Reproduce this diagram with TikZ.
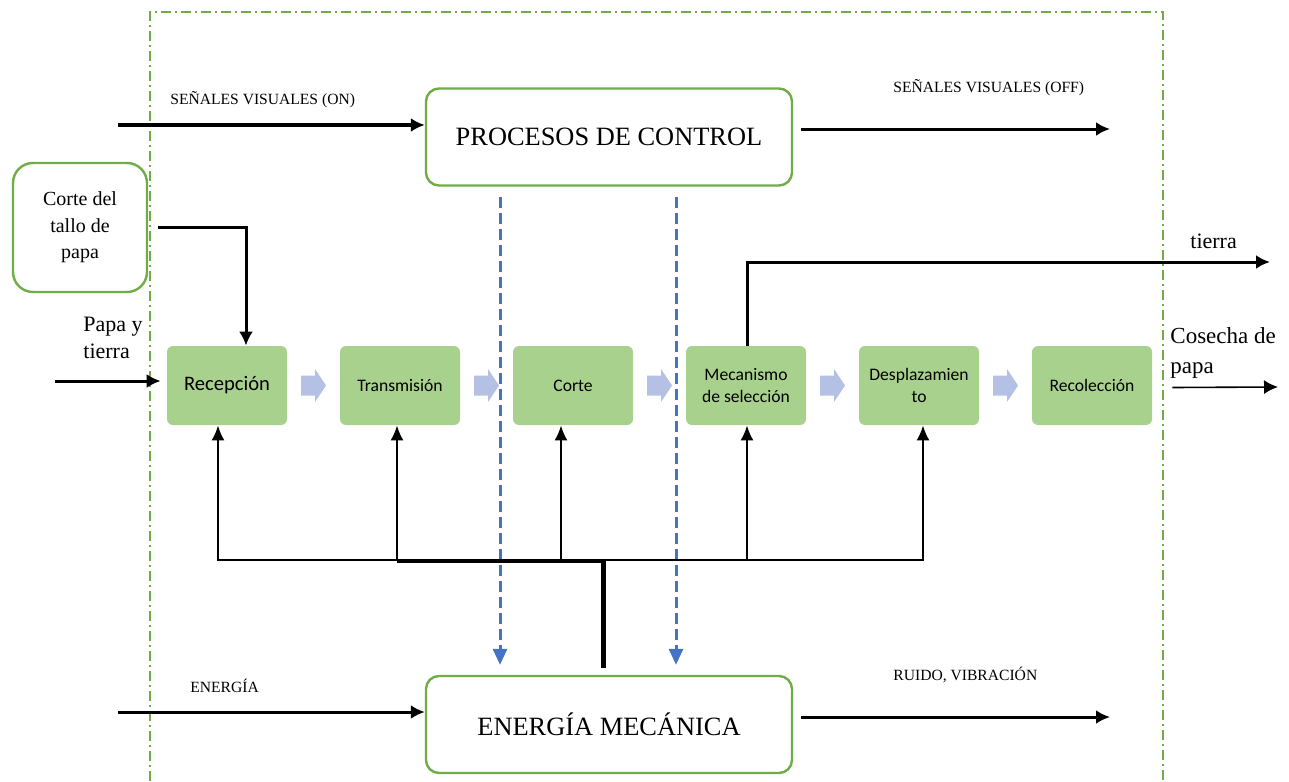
\documentclass[tikz,border=0pt]{standalone}
\usepackage{fontspec}
\setmainfont{Liberation Serif}
\newfontfamily\boxfont{Carlito}
\usetikzlibrary{arrows.meta,calc}

\definecolor{grnline}{HTML}{70AD47}
\definecolor{grnfill}{HTML}{A9D18E}
\definecolor{stepblue}{HTML}{B4C0E4}
\definecolor{ctrlblue}{HTML}{4472C4}

\tikzset{
  bigbox/.style={draw=grnline,line width=1.2pt,fill=white,rounded corners=6.5pt,
    minimum width=183pt,minimum height=48.5pt,font=\fontsize{13.2}{15}\selectfont},
  procbox/.style={fill=grnfill,rounded corners=3pt,minimum width=60pt,
    minimum height=39.5pt,inner sep=0pt,align=center,
    font=\boxfont\fontsize{8.8}{11}\selectfont},
  sig/.style={font=\fontsize{7.8}{9}\selectfont,inner sep=0pt,anchor=west},
  outlbl/.style={font=\fontsize{11}{13.5}\selectfont,inner sep=0pt,align=left,anchor=west},
  flow/.style={line width=1.5pt,-{Latex[length=7pt,width=7pt]}},
  thinflow/.style={line width=0.8pt,-{Latex[length=7pt,width=7pt]}},
  feed/.style={line width=1pt,-{Latex[length=7.5pt,width=6.5pt]}},
  ctrldash/.style={ctrlblue,line width=1.5pt,dash pattern=on 5.5pt off 2.5pt,
    -{Triangle[length=8pt,width=7pt]}}
}

\begin{document}
\begin{tikzpicture}[x=0.5pt,y=-0.5pt]
  \useasboundingbox (0,0) rectangle (1289,781);
  % system limit
  \draw[grnline,line width=1.1pt,dash pattern=on 5pt off 2pt on 1pt off 2pt]
    (150,781) -- (150,12) -- (1163,12) -- (1163,781);

  \node[bigbox] (ctrl) at (609,137) {PROCESOS DE CONTROL};
  \node[bigbox] (mech) at (609,724.5) {ENERGÍA MECÁNICA};
  \node[draw=grnline,line width=1.2pt,rounded corners=10pt,minimum width=67pt,
    minimum height=64.5pt,align=center,font=\fontsize{10}{13.2}\selectfont]
    (tallo) at (80,227.5) {Corte del\\tallo de\\papa};

  % process chain
  \node[procbox,font=\boxfont\fontsize{10.3}{12}\selectfont] (rec) at (227,385.5) {Recepción};
  \node[procbox] (tra) at (400,385.5) {Transmisión};
  \node[procbox] (cor) at (573,385.5) {Corte};
  \node[procbox] (mec) at (746,385.5) {Mecanismo\\de selección};
  \node[procbox] (des) at (919,385.5) {Desplazamien\\to};
  \node[procbox] (rcl) at (1092,385.5) {Recolección};
  \foreach \a/\b in {rec/tra,tra/cor,cor/mec,mec/des,des/rcl}
    \fill[stepblue] ($(\a.east)!0.5!(\b.west)$) ++(-12.5,-10) -- ++(14,0)
      -- ++(0,-6.5) -- ++(11,16.5) -- ++(-11,16.5) -- ++(0,-6.5) -- ++(-14,0) -- cycle;

  % control signals
  \coordinate (onin) at (118,125);
  \coordinate (offout) at (1110,129);
  \draw[flow] (onin) -- (onin -| ctrl.west);
  \draw[flow] ($(ctrl.east)+(8,-8)$) -- (offout);
  \node[sig] (onlbl) at (170,100) {SEÑALES VISUALES (ON)};
  \node[sig] (offlbl) at (893,88) {SEÑALES VISUALES (OFF)};
  \draw[ctrldash] ($(ctrl.south)+(-109,10)$) -- ($(mech.north)+(-109,-10)$);
  \draw[ctrldash] ($(ctrl.south)+(67,10)$) -- ($(mech.north)+(67,-10)$);

  % energy
  \coordinate (enin) at (118,712);
  \coordinate (ruidoout) at (1110,717);
  \draw[flow] (enin) -- (enin -| mech.west);
  \draw[flow] ($(mech.east)+(8,-7.5)$) -- (ruidoout);
  \node[sig] (enlbl) at (190,686) {ENERGÍA};
  \node[sig] (ruidolbl) at (893,675) {RUIDO, VIBRACIÓN};

  \coordinate (hub) at (603,560);
  \coordinate (trunkfoot) at (603,668);
  \draw[line width=2.5pt] (trunkfoot) -- (hub);
  \draw[feed] (hub) -| ($(rec.south)+(-9,0)$);
  \draw[feed] (hub) -| ($(tra.south)+(-3,0)$);
  \draw[feed] (hub) -| ($(cor.south)+(-12,0)$);
  \draw[feed] (hub) -| ($(mec.south)+(1,0)$);
  \draw[feed] (hub) -| ($(des.south)+(4,0)$);
  \draw[line width=1pt] ($(hub)+(-206,2)$) -- ($(hub)+(0,2)$);

  % material in / out
  \coordinate (papain) at (55,381);
  \coordinate (tierraout) at (1270,262);
  \coordinate (cosout) at (1278,387);
  \draw[flow] ([xshift=5pt]tallo.east) -| ($(rec.north)+(19,0)$);
  \draw[flow,shorten >=3pt] (papain) -- (papain -| rec.west);
  \draw[flow] ($(mec.north)+(1,0)$) |- (tierraout);
  \draw[thinflow] ($(rcl.east)+(20,2)$) -- (cosout);
  \node[outlbl] (papalbl) at (83,338) {Papa y\\tierra};
  \node[outlbl] (tierralbl) at (1190,241) {tierra};
  \node[outlbl,font=\fontsize{11.5}{15}\selectfont] (coslbl) at (1170,353) {Cosecha de\\papa};
\end{tikzpicture}
\end{document}
